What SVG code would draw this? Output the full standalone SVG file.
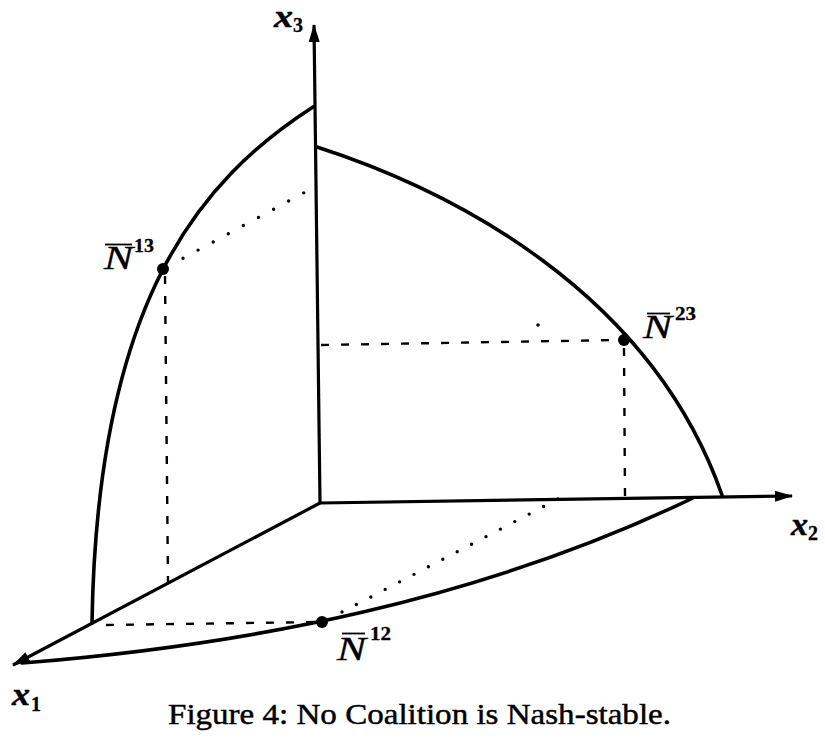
<svg xmlns="http://www.w3.org/2000/svg" width="825" height="742" viewBox="0 0 825 742">
<style>
.ax{fill:none;stroke:#000;stroke-width:3.2}
.cv{fill:none;stroke:#000;stroke-width:3.6;stroke-linecap:round}
.dash{fill:none;stroke:#000;stroke-width:2.4;stroke-dasharray:8 12}
.dots{fill:none;stroke:#000;stroke-width:3.4;stroke-linecap:round}
.pt{fill:#000}
.bar{stroke:#000;stroke-width:1.8}
.nl{font-family:"Liberation Serif",serif;font-style:italic;font-size:34px;stroke:#000;stroke-width:0.4}
.sup{font-family:"Liberation Serif",serif;font-weight:bold;font-size:18px;stroke:#000;stroke-width:0.3}
.xl{font-family:"Liberation Serif",serif;font-style:italic;font-weight:bold;font-size:31px;stroke:#000;stroke-width:0.5}
.xs{font-family:"Liberation Serif",serif;font-weight:bold;font-size:20px;stroke:#000;stroke-width:0.3}
.cap{font-family:"Liberation Serif",serif;font-size:30px;stroke:#000;stroke-width:0.45}
</style>
<defs>
<marker id="arrow" markerUnits="userSpaceOnUse" markerWidth="18" markerHeight="12" viewBox="0 0 18 12" refX="17" refY="6" orient="auto">
<path d="M0,0.5 L18,6 L0,11.5 z" fill="#000"/>
</marker>
</defs>
<g id="connectors">
<line id="axis-x3" class="ax" x1="320" y1="503" x2="314" y2="25" marker-end="url(#arrow)"/>
<line id="axis-x2" class="ax" x1="320" y1="503" x2="792" y2="496" marker-end="url(#arrow)"/>
<line id="axis-x1" class="ax" x1="320" y1="503" x2="13" y2="665" marker-end="url(#arrow)"/>
<path id="curve-13" class="cv" d="M92,623 C97,300 200,180 313,107"/>
<path id="curve-23" class="cv" d="M317,147 C450,190 650,290 722,495"/>
<path id="curve-12" class="cv" d="M22,663 C250,645 480,600 693,498"/>
<line class="dash" x1="165" y1="276" x2="168" y2="583"/>
<line class="dash" x1="106" y1="625" x2="318" y2="622"/>
<line class="dash" x1="321" y1="345" x2="618" y2="340"/>
<line class="dash" x1="624" y1="348" x2="625" y2="497"/>
<line class="dots" x1="183" y1="258.3" x2="304" y2="192.7" stroke-dasharray="0 17.17"/>
<line class="dots" x1="342" y1="612" x2="558" y2="499" stroke-dasharray="0 16.25"/>
<circle class="pt" cx="538" cy="325" r="1.8"/>
</g>
<g id="N13">
<circle class="pt" cx="163" cy="269" r="6"/>
<line class="bar" x1="105" y1="244.5" x2="132" y2="244.5"/>
<text class="nl" x="104" y="269" textLength="29" lengthAdjust="spacingAndGlyphs">N</text>
<text class="sup" x="134" y="252" textLength="20" lengthAdjust="spacingAndGlyphs">13</text>
</g>
<g id="N23">
<circle class="pt" cx="624" cy="340" r="6"/>
<line class="bar" x1="647" y1="313.5" x2="670" y2="313.5"/>
<text class="nl" x="643" y="338" textLength="29" lengthAdjust="spacingAndGlyphs">N</text>
<text class="sup" x="675" y="320" textLength="21" lengthAdjust="spacingAndGlyphs">23</text>
</g>
<g id="N12">
<circle class="pt" cx="322" cy="622" r="6"/>
<line class="bar" x1="342" y1="633.5" x2="365" y2="633.5"/>
<text class="nl" x="337" y="660" textLength="29" lengthAdjust="spacingAndGlyphs">N</text>
<text class="sup" x="370" y="640" textLength="21" lengthAdjust="spacingAndGlyphs">12</text>
</g>
<g id="label-x3">
<text class="xl" x="274" y="27" textLength="19" lengthAdjust="spacingAndGlyphs">x</text>
<text class="xs" x="293" y="32">3</text>
</g>
<g id="label-x2">
<text class="xl" x="791" y="535" textLength="17" lengthAdjust="spacingAndGlyphs">x</text>
<text class="xs" x="808" y="540">2</text>
</g>
<g id="label-x1">
<text class="xl" x="12" y="705" textLength="18" lengthAdjust="spacingAndGlyphs">x</text>
<text class="xs" x="31" y="711">1</text>
</g>
<g id="caption">
<text class="cap" x="168" y="724" textLength="503" lengthAdjust="spacingAndGlyphs">Figure 4: No Coalition is Nash-stable.</text>
</g>
</svg>
